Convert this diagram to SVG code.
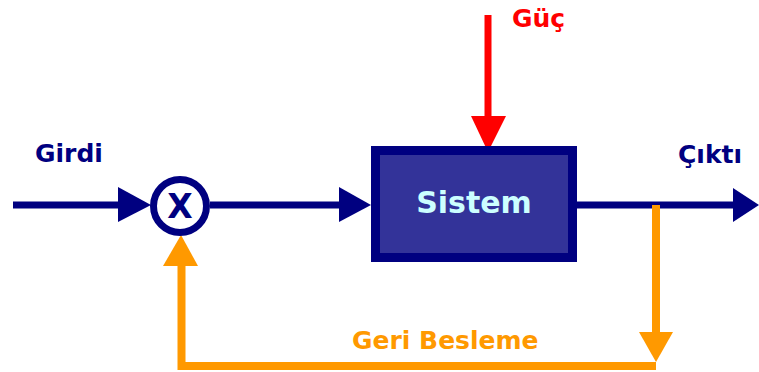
<svg xmlns="http://www.w3.org/2000/svg" width="759" height="372" viewBox="0 0 759 372">
<style>
text{font-family:"DejaVu Sans","Liberation Sans",sans-serif;font-weight:bold;font-size:25px}
.navy{stroke:#000080;stroke-width:7;fill:none}
.orange{stroke:#FF9900;stroke-width:8;fill:none}
.red{stroke:#FF0000;stroke-width:7;fill:none}
.lbl{fill:#000080}
</style>
<rect width="759" height="372" fill="#FFFFFF"/>
<g id="connectors">
  <path class="navy" d="M13 205 H122"/>
  <polygon fill="#000080" points="118,187 151,205 118,222"/>
  <path class="navy" d="M210 205 H343"/>
  <polygon fill="#000080" points="339,187 371,205 339,222"/>
  <path class="navy" d="M577 205 H737"/>
  <polygon fill="#000080" points="733,188 759,205 733,222"/>
  <path class="red" d="M488 15 V120"/>
  <polygon fill="#FF0000" points="471,116 506,116 488,152"/>
  <path class="orange" d="M656 205 V336"/>
  <polygon fill="#FF9900" points="639,332 673,332 656,362"/>
  <path class="orange" d="M656 366 H181.5 V262"/>
  <polygon fill="#FF9900" points="163,266 198,266 181,235"/>
</g>
<g id="sum">
  <circle cx="180" cy="206" r="26.5" fill="#FFFFFF" stroke="#000080" stroke-width="7"/>
  <text x="180" y="218" text-anchor="middle" class="lbl" style="font-size:33px">X</text>
</g>
<g id="sistem">
  <rect x="375.5" y="150.5" width="197" height="107" fill="#333399" stroke="#000080" stroke-width="9"/>
  <text x="474" y="213" text-anchor="middle" fill="#CCFFFF" style="font-size:30px">Sistem</text>
</g>
<g id="labels">
  <text x="35" y="162" class="lbl">Girdi</text>
  <text x="678" y="163" class="lbl">Çıktı</text>
  <text x="512" y="27" fill="#FF0000">Güç</text>
  <text x="352" y="349" fill="#FF9900">Geri Besleme</text>
</g>
</svg>
